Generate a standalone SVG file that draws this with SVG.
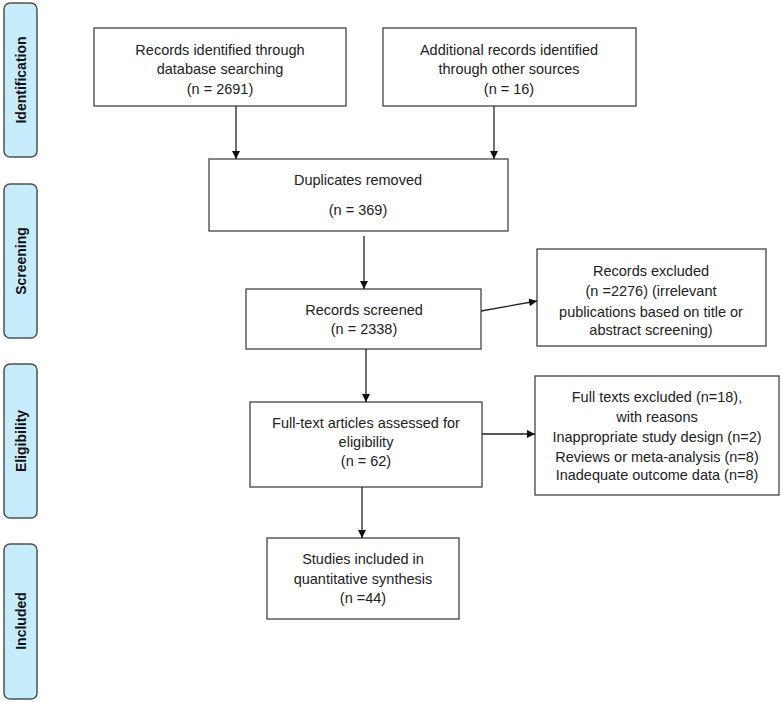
<svg xmlns="http://www.w3.org/2000/svg" width="782" height="702" viewBox="0 0 782 702">
<style>
.bar{fill:#c6ecfb;stroke:#505050;stroke-width:1.5}
.box{fill:#fff;stroke:#444;stroke-width:1.3}
.t{font-family:"Liberation Sans",Arial,sans-serif;font-size:14.5px;fill:#222;text-anchor:middle}
.s{font-family:"Liberation Sans",Arial,sans-serif;font-size:14px;font-weight:bold;fill:#111;text-anchor:middle}
.c{stroke:#222;stroke-width:1.3;fill:none;marker-end:url(#ah)}
</style>
<defs>
<marker id="ah" viewBox="0 0 10 10" refX="10" refY="5" markerWidth="8" markerHeight="8" markerUnits="userSpaceOnUse" orient="auto">
<path d="M0,0 L10,5 L0,10 z" fill="#111"/>
</marker>
</defs>
<rect width="782" height="702" fill="#fff"/>
<g id="stage-identification"><rect class="bar" x="4" y="3" width="33" height="154" rx="6"/><text class="s" transform="translate(26,80) rotate(-90)">Identification</text></g>
<g id="stage-screening"><rect class="bar" x="4" y="184" width="33" height="154" rx="6"/><text class="s" transform="translate(26,261) rotate(-90)">Screening</text></g>
<g id="stage-eligibility"><rect class="bar" x="4" y="364" width="33" height="154" rx="6"/><text class="s" transform="translate(26,441) rotate(-90)">Eligibility</text></g>
<g id="stage-included"><rect class="bar" x="4" y="544" width="33" height="155" rx="6"/><text class="s" transform="translate(26,621) rotate(-90)">Included</text></g>

<g id="db"><rect class="box" x="94" y="28" width="252" height="78"/>
<text class="t" x="220" y="55">Records identified through</text>
<text class="t" x="220" y="74">database searching</text>
<text class="t" x="220" y="94">(n = 2691)</text></g>
<g id="other"><rect class="box" x="383" y="28" width="253" height="78"/>
<text class="t" x="509" y="55">Additional records identified</text>
<text class="t" x="509" y="74">through other sources</text>
<text class="t" x="509" y="94">(n = 16)</text></g>
<g id="dup"><rect class="box" x="209" y="159" width="299" height="72"/>
<text class="t" x="358" y="185">Duplicates removed</text>
<text class="t" x="358" y="215">(n = 369)</text></g>
<g id="screened"><rect class="box" x="246" y="289" width="235" height="60"/>
<text class="t" x="364" y="315">Records screened</text>
<text class="t" x="364" y="334">(n = 2338)</text></g>
<g id="excluded"><rect class="box" x="537" y="249" width="229" height="97"/>
<text class="t" x="651" y="276">Records excluded</text>
<text class="t" x="651" y="296">(n =2276) (irrelevant</text>
<text class="t" x="651" y="317">publications based on title or</text>
<text class="t" x="651" y="335">abstract screening)</text></g>
<g id="fulltext"><rect class="box" x="250" y="402" width="232" height="85"/>
<text class="t" x="366" y="428">Full-text articles assessed for</text>
<text class="t" x="366" y="447">eligibility</text>
<text class="t" x="366" y="466">(n = 62)</text></g>
<g id="ftexcluded"><rect class="box" x="535" y="376" width="244" height="119"/>
<text class="t" x="657" y="402">Full texts excluded (n=18),</text>
<text class="t" x="657" y="422">with reasons</text>
<text class="t" x="657" y="442">Inappropriate study design (n=2)</text>
<text class="t" x="657" y="462">Reviews or meta-analysis (n=8)</text>
<text class="t" x="657" y="480">Inadequate outcome data (n=8)</text></g>
<g id="included"><rect class="box" x="267" y="538" width="192" height="81"/>
<text class="t" x="363" y="564">Studies included in</text>
<text class="t" x="363" y="584">quantitative synthesis</text>
<text class="t" x="363" y="603">(n =44)</text></g>

<g id="connectors">
<line class="c" x1="236" y1="106" x2="236" y2="159"/>
<line class="c" x1="494" y1="106" x2="494" y2="159"/>
<line class="c" x1="364" y1="236" x2="364" y2="289"/>
<line class="c" x1="481" y1="311" x2="537" y2="301"/>
<line class="c" x1="366" y1="349" x2="366" y2="402"/>
<line class="c" x1="482" y1="434" x2="535" y2="434"/>
<line class="c" x1="362" y1="487" x2="362" y2="538"/>
</g>
</svg>
